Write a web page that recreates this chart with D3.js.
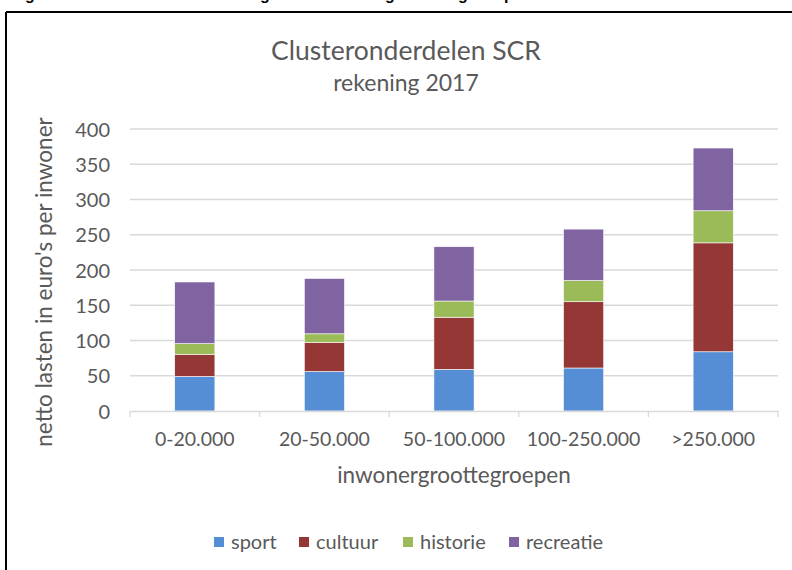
<!DOCTYPE html>
<html>
<head>
<meta charset="utf-8">
<script src="https://cdn.jsdelivr.net/npm/d3@7"></script>
<style>
  body { margin: 0; background: #fff; }
  svg text { font-family: Lato, "Open Sans", sans-serif; }
</style>
</head>
<body>
<svg id="chart" width="792" height="570"></svg>
<script>
// DATA
const groups = ["0-20.000", "20-50.000", "50-100.000", "100-250.000", ">250.000"];
const series_names = ["sport", "cultuur", "historie", "recreatie"];
const sport = [49, 56, 59, 61, 84];
const cultuur = [31.5, 41.5, 74, 94, 154.5];
const historie = [15, 12, 23, 30, 45.5];
const recreatie = [87.5, 78.5, 77, 73, 89];
const y_ticks = [0, 50, 100, 150, 200, 250, 300, 350, 400];
const colors = ["#558ed5", "#953735", "#9bbb59", "#8064a2"];

const svg = d3.select("#chart");
const text_col = "#595959";

// frame lines (top + left of the pasted chart)
svg.append("line").attr("x1", 6).attr("x2", 792).attr("y1", 12).attr("y2", 12)
  .attr("stroke", "#000").attr("stroke-width", 2);
svg.append("line").attr("x1", 6).attr("x2", 6).attr("y1", 12).attr("y2", 570)
  .attr("stroke", "#000").attr("stroke-width", 2);

// cut-off caption above the chart, only the descenders show
const caption_g = svg.append("text")
  .attr("y", 0)
  .style("font-family", "'Liberation Sans', Arial, sans-serif")
  .style("font-weight", "bold")
  .style("font-size", "16px");
[[25, "g"], [260, "g"], [385, "g"], [458, "g"], [504, "p"]].forEach(d => {
  caption_g.append("tspan").attr("x", d[0]).text(d[1]);
});

const margin = {left: 130, right: 14, top: 129, bottom: 159};
const width = 792 - margin.left - margin.right;
const height = 570 - margin.top - margin.bottom;

const x = d3.scaleBand().domain(groups).range([margin.left, margin.left + width]).paddingInner(0.69).paddingOuter(0.345);
const x_outer = d3.scaleBand().domain(groups).range([margin.left, margin.left + width]);
const y = d3.scaleLinear().domain([0, 400]).range([margin.top + height, margin.top]);

// gridlines
svg.append("g")
  .selectAll("line")
  .data(y_ticks.slice(1))
  .join("line")
  .attr("x1", margin.left).attr("x2", margin.left + width)
  .attr("y1", d => y(d)).attr("y2", d => y(d))
  .attr("stroke", "#d9d9d9").attr("stroke-width", 1.3);

// stacked bars
const rows = groups.map((g, i) => ({group: g, sport: sport[i], cultuur: cultuur[i], historie: historie[i], recreatie: recreatie[i]}));
const stacked = d3.stack().keys(series_names)(rows);

svg.append("g")
  .selectAll("g")
  .data(stacked)
  .join("g")
  .attr("fill", (d, i) => colors[i])
  .selectAll("rect")
  .data(d => d)
  .join("rect")
  .attr("x", d => x(d.data.group))
  .attr("width", x.bandwidth())
  .attr("y", d => y(d[1]))
  .attr("height", d => y(d[0]) - y(d[1]))
  .attr("stroke", "#fff").attr("stroke-width", 0.6);

// y axis
const y_axis = svg.append("g")
  .attr("transform", `translate(${margin.left - 20},0)`)
  .call(d3.axisLeft(y).tickValues(y_ticks).tickSize(0).tickPadding(0));
y_axis.select(".domain").remove();
y_axis.selectAll("text").attr("fill", text_col).style("font-size", "20px").attr("dy", "0.35em");

// x axis
const x_axis = svg.append("g")
  .attr("transform", `translate(0,${margin.top + height})`)
  .call(d3.axisBottom(x_outer).tickSize(0).tickPadding(21));
x_axis.select(".domain").attr("stroke", "#d9d9d9").attr("stroke-width", 1.3);
x_axis.selectAll("text").attr("fill", text_col).style("font-size", "19.5px");

// category boundary ticks
svg.append("g")
  .selectAll("line")
  .data(d3.range(groups.length + 1))
  .join("line")
  .attr("x1", i => margin.left + i * x_outer.step())
  .attr("x2", i => margin.left + i * x_outer.step())
  .attr("y1", margin.top + height)
  .attr("y2", margin.top + height + 6)
  .attr("stroke", "#d9d9d9").attr("stroke-width", 1.3);

// titles
svg.append("text").attr("x", 406).attr("y", 60).attr("text-anchor", "middle")
  .attr("fill", text_col).style("font-size", "26.5px").text("Clusteronderdelen SCR");
svg.append("text").attr("x", 406).attr("y", 91).attr("text-anchor", "middle")
  .attr("fill", text_col).style("font-size", "23px").text("rekening 2017");

svg.append("text").attr("x", 454).attr("y", 483).attr("text-anchor", "middle")
  .attr("fill", text_col).style("font-size", "22.5px").text("inwonergroottegroepen");

svg.append("text")
  .attr("transform", `translate(52,${282}) rotate(-90)`)
  .attr("text-anchor", "middle")
  .attr("fill", text_col).style("font-size", "22.5px")
  .text("netto lasten in euro's per inwoner");

// legend
const legend_x = [214, 299, 403, 509];
const legend = svg.append("g")
  .selectAll("g")
  .data(series_names)
  .join("g")
  .attr("transform", (d, i) => `translate(${legend_x[i]},542)`);
legend.append("rect").attr("x", 0).attr("y", -5).attr("width", 10).attr("height", 10)
  .attr("fill", (d, i) => colors[i]);
legend.append("text").attr("x", 17).attr("y", 0).attr("dy", "0.35em")
  .attr("fill", text_col).style("font-size", "20px").text(d => d);
</script>
</body>
</html>
